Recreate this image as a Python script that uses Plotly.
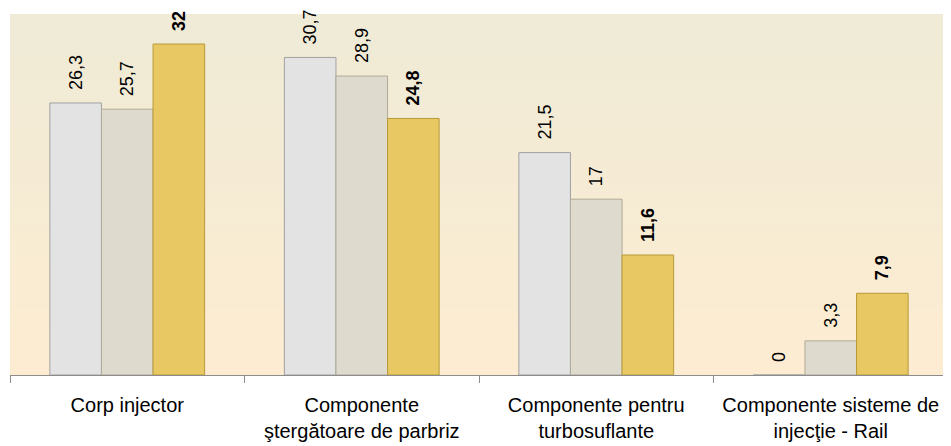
import plotly.graph_objects as go

categories = ["Corp injector",
              "Componente<br>ştergătoare de parbriz",
              "Componente pentru<br>turbosuflante",
              "Componente sisteme de<br>injecţie - Rail"]
series1 = [26.3, 30.7, 21.5, 0]
series2 = [25.7, 28.9, 17, 3.3]
series3 = [32, 24.8, 11.6, 7.9]
labels1 = ["26,3", "30,7", "21,5", "0"]
labels2 = ["25,7", "28,9", "17", "3,3"]
labels3 = ["32", "24,8", "11,6", "7,9"]

fig = go.Figure()
specs = [
    (series1, labels1, "#E3E3E3", "#A0A0A0", "\u00a0\u00a0%{text}"),
    (series2, labels2, "#DEDACE", "#B0AA98", "\u00a0\u00a0%{text}"),
    (series3, labels3, "#E8C862", "#B89A3A", "\u00a0\u00a0<b>%{text}</b>"),
]
for vals, labs, col, lc, tmpl in specs:
    fig.add_trace(go.Bar(
        x=categories, y=vals, text=labs, texttemplate=tmpl,
        textposition="outside", textangle=-90, cliponaxis=False,
        constraintext="none",
        textfont=dict(family="Liberation Sans, Arial", size=18, color="#000000"),
        marker=dict(color=col, line=dict(color=lc, width=1)),
    ))

# background vertical gradient of the plot area
n = 60
top = (0xEF, 0xEB, 0xD7)
bot = (0xFD, 0xEC, 0xD1)
shapes = []
for i in range(n):
    t = i / (n - 1)
    c = tuple(int(round(top[k] + (bot[k] - top[k]) * t)) for k in range(3))
    shapes.append(dict(type="rect", xref="paper", yref="paper",
                       x0=0, x1=1, y0=1 - (i + 1) / n, y1=1 - i / n,
                       fillcolor="rgb(%d,%d,%d)" % c, line=dict(width=0),
                       layer="below"))

# page body has an 8px default margin: compensate in figure margins
fig.update_layout(
    width=951, height=446,
    margin=dict(l=2, r=11, t=6, b=79),
    paper_bgcolor="white", plot_bgcolor="#F5EBD4",
    barmode="group", bargap=0.34, bargroupgap=0,
    showlegend=False, shapes=shapes,
    font=dict(family="Liberation Sans, Arial", color="#000000"),
)
fig.update_xaxes(showline=True, linecolor="#8C8C8C", linewidth=1,
                 ticks="outside", tickson="boundaries", ticklen=7,
                 tickcolor="#8C8C8C", showgrid=False, automargin=False,
                 ticklabelstandoff=12,
                 tickfont=dict(family="Liberation Sans, Arial", size=20, color="#000000"))
fig.update_yaxes(visible=False, range=[0, 34.9], showgrid=False, automargin=False)

fig.write_html("out.html")
